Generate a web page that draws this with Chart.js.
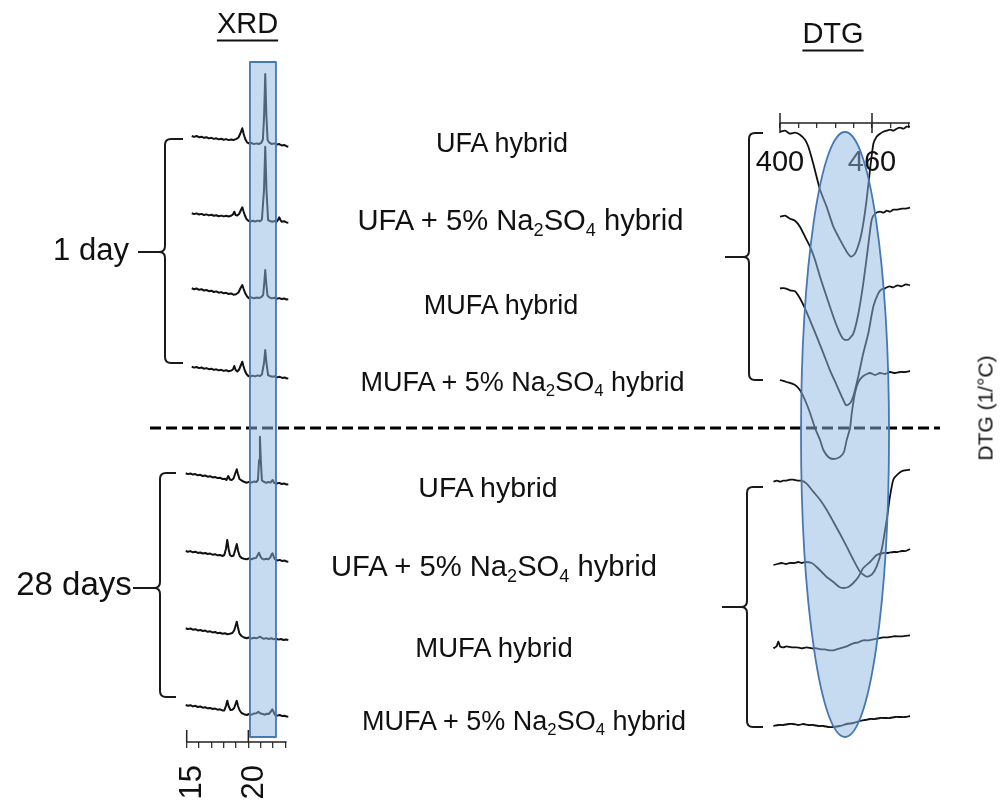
<!DOCTYPE html>
<html><head><meta charset="utf-8">
<script src="https://cdn.jsdelivr.net/npm/chart.js@4/dist/chart.umd.min.js"></script>
<style>
html,body{margin:0;padding:0;background:#fff;}
#wrap{position:relative;width:1002px;height:800px;overflow:hidden;font-family:"Liberation Sans",Arial,sans-serif;color:#111;}
#c{position:absolute;left:0;top:0;}
.lbl{position:absolute;white-space:nowrap;line-height:1;transform:translate(-50%,-50%);}
.lbl sub{font-size:0.62em;vertical-align:-0.3em;line-height:0;}
.ttl{text-decoration:underline;text-decoration-thickness:2px;text-underline-offset:7px;}
</style></head>
<body><div id="wrap"><canvas id="c" width="1002" height="800"></canvas></div>
<script>
// ---------------- DATA ----------------
// XRD: [2θ (°), intensity (a.u., relative to each trace's right-end baseline)]
const xrdUFA_1d = [[15.41,11.0],[15.6,10.1],[15.8,11.0],[16.0,9.8],[16.2,10.3],[16.4,9.2],[16.6,9.8],[16.8,8.6],[17.0,9.2],[17.2,8.1],[17.4,8.7],[17.6,7.6],[17.8,8.2],[18.0,7.3],[18.2,7.9],[18.4,6.9],[18.6,7.5],[18.8,7.0],[19.0,7.9],[19.2,9.5],[19.35,13.5],[19.51,18.7],[19.62,13.0],[19.75,8.0],[19.9,4.6],[20.05,3.6],[20.25,4.1],[20.45,2.9],[20.65,3.6],[20.85,3.0],[21.05,4.2],[21.18,7.5],[21.28,32],[21.37,73],[21.46,32],[21.56,7.0],[21.7,4.3],[21.9,3.0],[22.1,3.6],[22.3,2.4],[22.5,2.9],[22.7,1.6],[22.9,2.0],[23.1,0.8],[23.24,0.3]];
const xrdUFA5_1d = [[15.41,9.7],[15.6,8.9],[15.8,9.6],[16.0,8.5],[16.2,9.1],[16.4,8.0],[16.6,8.6],[16.8,7.6],[17.0,8.2],[17.2,7.2],[17.4,7.8],[17.6,6.8],[17.8,7.4],[18.0,6.6],[18.2,7.2],[18.4,6.5],[18.6,7.3],[18.75,8.5],[18.86,11.3],[18.97,8.0],[19.1,7.5],[19.25,9.0],[19.4,13],[19.51,15.7],[19.6,12],[19.72,7.5],[19.85,4.0],[20.0,2.2],[20.15,1.4],[20.35,2.3],[20.55,1.5],[20.75,2.4],[20.95,1.8],[21.1,3.5],[21.27,33],[21.37,76.3],[21.47,33],[21.6,3.0],[21.75,2.0],[21.95,1.2],[22.15,2.0],[22.3,1.3],[22.42,3.5],[22.51,5.7],[22.6,3.0],[22.7,1.3],[22.9,1.8],[23.1,0.6],[23.24,0.3]];
const xrdMUFA_1d = [[15.41,11.7],[15.6,10.8],[15.8,11.5],[16.0,10.2],[16.2,10.8],[16.4,9.5],[16.6,10.0],[16.8,8.8],[17.0,9.3],[17.2,8.0],[17.4,8.6],[17.6,7.3],[17.8,7.9],[18.0,6.7],[18.2,7.2],[18.4,6.0],[18.6,6.5],[18.8,5.3],[19.0,5.8],[19.2,7.5],[19.35,11.5],[19.51,15.0],[19.62,11],[19.75,6.7],[19.9,3.5],[20.05,1.8],[20.25,2.6],[20.45,1.6],[20.65,2.5],[20.85,2.0],[21.05,2.9],[21.2,5.0],[21.29,17],[21.37,30],[21.45,17],[21.55,4.5],[21.7,2.7],[21.9,1.6],[22.1,2.3],[22.3,1.3],[22.5,1.9],[22.7,1.0],[22.9,1.5],[23.1,0.5],[23.24,0.7]];
const xrdMUFA5_1d = [[15.41,12.3],[15.6,11.4],[15.8,12.0],[16.0,10.9],[16.2,11.5],[16.4,10.3],[16.6,10.9],[16.8,9.8],[17.0,10.3],[17.2,9.1],[17.4,9.7],[17.6,8.6],[17.8,9.2],[18.0,8.1],[18.2,8.8],[18.4,7.8],[18.6,8.4],[18.75,9.5],[18.86,13.0],[18.97,9.0],[19.1,7.5],[19.25,9.5],[19.4,14],[19.51,17.3],[19.6,13],[19.72,8.3],[19.85,5.0],[20.0,3.0],[20.15,2.3],[20.35,3.4],[20.55,2.6],[20.75,3.6],[20.95,3.0],[21.1,4.5],[21.27,16],[21.37,29],[21.47,16],[21.6,4.0],[21.75,3.0],[21.95,2.2],[22.15,2.8],[22.35,1.6],[22.55,2.2],[22.75,1.1],[22.95,1.6],[23.1,0.6],[23.24,0.7]];
const xrdUFA_28d = [[14.92,11.7],[15.1,10.9],[15.3,11.5],[15.5,10.4],[15.7,10.9],[15.9,9.7],[16.1,10.2],[16.3,9.0],[16.5,9.5],[16.7,8.3],[16.9,8.8],[17.1,7.6],[17.3,8.1],[17.5,6.9],[17.7,7.3],[17.9,6.0],[18.1,6.3],[18.22,5.0],[18.37,9.0],[18.5,5.5],[18.65,5.0],[18.8,6.5],[18.95,12],[19.06,15.7],[19.16,11],[19.28,6.0],[19.45,4.5],[19.65,3.2],[19.85,2.3],[20.05,3.1],[20.25,2.5],[20.45,3.4],[20.65,3.0],[20.78,5.0],[20.87,25],[20.94,48.3],[21.01,25],[21.1,4.5],[21.25,3.3],[21.45,2.3],[21.65,3.0],[21.8,2.4],[21.97,5.0],[22.1,2.0],[22.3,1.5],[22.5,2.1],[22.7,1.0],[22.9,1.5],[23.1,0.5],[23.24,0.7]];
const xrdUFA5_28d = [[14.92,11.0],[15.1,10.2],[15.3,10.9],[15.5,9.7],[15.7,10.3],[15.9,9.1],[16.1,9.6],[16.3,8.5],[16.5,9.0],[16.7,8.0],[16.9,8.4],[17.1,7.3],[17.3,7.8],[17.5,6.7],[17.7,7.1],[17.9,6.0],[18.05,7.0],[18.18,13],[18.29,22],[18.4,13],[18.51,7.0],[18.65,5.8],[18.8,6.5],[18.93,12],[19.06,18],[19.17,11],[19.3,6.0],[19.45,4.0],[19.65,3.2],[19.87,2.7],[20.05,3.6],[20.25,2.8],[20.45,3.8],[20.62,4.0],[20.76,7.0],[20.86,9.3],[20.96,6.0],[21.08,3.7],[21.25,2.5],[21.45,3.2],[21.62,2.7],[21.78,4.5],[21.9,8.0],[21.97,8.7],[22.06,5.0],[22.16,2.7],[22.35,1.5],[22.55,2.1],[22.75,0.9],[22.95,1.4],[23.1,0.4],[23.24,0.3]];
const xrdMUFA_28d = [[14.92,12.7],[15.1,11.9],[15.3,12.5],[15.5,11.3],[15.7,11.8],[15.9,10.6],[16.1,11.1],[16.3,10.0],[16.5,10.4],[16.7,9.2],[16.9,9.7],[17.1,8.6],[17.3,9.0],[17.5,7.8],[17.7,8.3],[17.9,7.3],[18.1,7.8],[18.3,6.8],[18.5,7.2],[18.7,8.0],[18.85,10.5],[18.96,15],[19.06,19.3],[19.15,14],[19.27,7.7],[19.45,5.0],[19.65,3.5],[19.87,2.7],[20.05,3.5],[20.25,2.4],[20.45,3.2],[20.65,2.7],[20.82,3.6],[20.94,4.3],[21.06,3.3],[21.25,2.2],[21.45,2.9],[21.65,2.0],[21.85,2.7],[22.05,1.8],[22.25,2.4],[22.45,1.4],[22.65,2.0],[22.85,1.0],[23.05,1.5],[23.24,1.0]];
const xrdMUFA5_28d = [[14.92,12.0],[15.1,11.2],[15.3,11.8],[15.5,10.6],[15.7,11.2],[15.9,10.0],[16.1,10.5],[16.3,9.3],[16.5,9.8],[16.7,8.7],[16.9,9.1],[17.1,8.0],[17.3,8.4],[17.5,7.3],[17.7,7.7],[17.9,6.6],[18.05,6.5],[18.18,11],[18.29,16.3],[18.4,11],[18.55,7.0],[18.7,7.3],[18.85,9.0],[18.96,13],[19.06,16.3],[19.16,11],[19.3,6.5],[19.45,4.0],[19.65,2.8],[19.87,2.0],[20.05,3.0],[20.25,2.3],[20.45,3.4],[20.65,3.8],[20.81,5.3],[20.95,3.8],[21.16,3.0],[21.35,2.3],[21.5,3.3],[21.65,3.0],[21.8,5.0],[21.94,7.7],[22.05,5.0],[22.16,2.0],[22.35,1.4],[22.55,2.0],[22.75,0.9],[22.95,1.3],[23.1,0.4],[23.24,0.3]];

// DTG: [temperature (°C), DTG (a.u., relative to each trace's start)]
const dtgUFA_1d = [[400,0],[403.3,0.01],[406.5,-0.02],[409.8,-0.01],[413,-0.03],[416.3,-0.08],[418.5,-0.15],[421.7,-0.32],[426.1,-0.58],[430.4,-0.75],[434.8,-0.95],[439.1,-1.08],[443.5,-1.2],[446.3,-1.25],[448.9,-1.22],[452.2,-1.08],[454.3,-0.92],[456.5,-0.68],[458.7,-0.38],[460.9,-0.12],[463,-0.05],[465.2,-0.02],[467.4,0],[469.6,0.01],[471.7,0.02],[474,0.01],[476.1,0.03],[478.3,0.04],[480.4,0.03],[482.6,0.05],[484.8,0.05]];
const dtgUFA5_1d = [[400,0],[403.3,0.01],[406.5,-0.02],[409.8,-0.04],[413,-0.10],[416.3,-0.20],[419.6,-0.30],[422.8,-0.43],[426.1,-0.60],[430.4,-0.80],[434.8,-1.00],[438,-1.13],[440.2,-1.20],[442,-1.23],[444.5,-1.23],[447.8,-1.17],[451.1,-0.97],[454.3,-0.67],[457.2,-0.33],[459.8,-0.03],[462,0.03],[465.2,0.05],[467.4,0.04],[469.6,0.06],[471.7,0.05],[473.9,0.07],[476.7,0.07],[479.4,0.08],[482.1,0.08],[484.8,0.09]];
const dtgMUFA_1d = [[400,0],[403.3,0],[406.5,-0.02],[409.8,-0.03],[413,-0.10],[416.3,-0.20],[419.6,-0.32],[423.9,-0.48],[428.3,-0.65],[432.6,-0.82],[437,-0.97],[440.2,-1.08],[443.1,-1.17],[445.7,-1.15],[447.8,-1.08],[451.1,-0.88],[454.3,-0.65],[457.6,-0.45],[460.9,-0.18],[464.1,-0.05],[466.3,-0.01],[468.5,0],[471.2,0.02],[473.9,0.01],[476.7,0.03],[479.4,0.02],[482.1,0.04],[484.8,0.03]];
const dtgMUFA5_1d = [[400,0],[404.3,-0.02],[409.8,-0.05],[413,-0.10],[416.3,-0.20],[419.6,-0.33],[422.8,-0.48],[426.1,-0.60],[428.3,-0.70],[431.5,-0.77],[434.8,-0.79],[439.1,-0.77],[441.7,-0.72],[443.5,-0.60],[445.7,-0.48],[446.8,-0.33],[448.9,-0.13],[451.1,-0.02],[454.3,0.04],[458.7,0.07],[462,0.05],[465.2,0.07],[468.5,0.06],[471.7,0.08],[475,0.07],[478.3,0.08],[481.5,0.08],[484.8,0.09]];
const dtgUFA_28d = [[395.7,0],[398,0.01],[400,0.00],[402.2,0.01],[404.3,0.01],[406.5,0.02],[408.7,0.02],[411.4,0.01],[414.1,0.01],[417.4,-0.02],[421.7,-0.10],[426.1,-0.18],[430.4,-0.28],[434.8,-0.40],[439.1,-0.52],[443.5,-0.65],[447.8,-0.78],[452.2,-0.90],[456.5,-0.95],[459.8,-0.93],[463,-0.85],[466.3,-0.68],[469.6,-0.38],[471.7,-0.15],[473.9,0.02],[477.2,0.08],[480.4,0.11],[484.8,0.12]];
const dtgUFA5_28d = [[395.7,0],[398.4,0.01],[401.1,0.02],[403.8,0.01],[406.5,0.02],[409.2,0.02],[412,0.03],[414.2,0.02],[416.3,0.03],[420.7,0.02],[423.9,-0.02],[427.2,-0.07],[430.4,-0.12],[434.8,-0.17],[438.7,-0.22],[441.3,-0.23],[444.6,-0.22],[447.8,-0.18],[451.1,-0.12],[454.3,-0.03],[458.7,0.03],[463,0.10],[467.4,0.12],[470.6,0.12],[473.9,0.13],[476.7,0.13],[479.4,0.14],[482.1,0.14],[484.8,0.16]];
const dtgMUFA_28d = [[395.7,0],[397.8,0.02],[398.9,0.07],[400,0.02],[402.2,0.01],[404.3,0.02],[407.6,0.01],[410.9,0.01],[414.1,0.00],[417.4,0.01],[420.7,0.00],[423.9,0],[426.6,-0.01],[429.3,-0.01],[432,-0.02],[434.8,-0.02],[439.1,0],[443.5,0.02],[447.8,0.05],[451.1,0.06],[454.3,0.08],[457.6,0.08],[460.9,0.09],[464.1,0.10],[467.4,0.11],[470.6,0.11],[473.9,0.12],[479.4,0.12],[484.8,0.13]];
const dtgMUFA5_28d = [[395.7,0],[399,0.01],[402.2,0.01],[405.5,0.02],[408.7,0.02],[412,0.01],[415.2,0.02],[418.5,0.01],[421.7,0.01],[425,0.00],[428.3,0],[431.5,-0.01],[434.8,-0.01],[439.1,0],[443.5,0.02],[447.8,0.03],[452.2,0.05],[455.4,0.06],[458.7,0.07],[462,0.07],[465.2,0.08],[468.5,0.08],[471.7,0.08],[475,0.09],[478.3,0.09],[481.5,0.09],[484.8,0.10]];

const xrdSeries = [xrdUFA_1d, xrdUFA5_1d, xrdMUFA_1d, xrdMUFA5_1d, xrdUFA_28d, xrdUFA5_28d, xrdMUFA_28d, xrdMUFA5_28d];
const dtgSeries = [dtgUFA_1d, dtgUFA5_1d, dtgMUFA_1d, dtgMUFA5_1d, dtgUFA_28d, dtgUFA5_28d, dtgMUFA_28d, dtgMUFA5_28d];

const sampleNames = ['UFA hybrid', 'UFA + 5% Na<sub>2</sub>SO<sub>4</sub> hybrid', 'MUFA hybrid', 'MUFA + 5% Na<sub>2</sub>SO<sub>4</sub> hybrid'];
const ageNames = ['1 day', '28 days'];
const xrdTicks = [15, 16, 17, 18, 19, 20, 21, 22, 23];
const xrdTickLabels = [15, 20];
const dtgTicks = [400, 412, 424, 436, 448, 460, 472, 484];
const dtgTickLabels = [400, 460];
const xrdHighlight = [20.13, 22.24];   // 2θ range of the shaded band
const dtgHighlight = [413.7, 471.1];   // temperature range of the shaded ellipse

// ---------------- LAYOUT / STYLE ----------------
const W = 1002, H = 800;
const L = {
  xrd: { anchor: 15, anchorPx: 186.7, pxPerUnit: 12.33, axisY: 742, axisEnd: 23.1 },
  dtg: { anchor: 400, anchorPx: 780, pxPerUnit: 1.5333, axisY: 123, axisEnd: 484.8 },
  xrdBase: [147, 223, 300, 379, 485, 562, 641, 717], xrdPx: 1,
  dtgBase: [131.7, 216.7, 288.3, 380, 481.7, 565, 648.3, 726], dtgPx: 100,
  rectY: [62, 737], ellY: [132, 737],
  divider: { y: 428, x0: 150, x1: 940 },
  brackets: [
    { x: 165, top: 139, bot: 363, arm: 183, mid: 252, tip: 138 },
    { x: 160, top: 473, bot: 697, arm: 176, mid: 588, tip: 133 },
    { x: 749, top: 133, bot: 380, arm: 763, mid: 257, tip: 725 },
    { x: 747, top: 487, bot: 727, arm: 763, mid: 607, tip: 722 }
  ],
  names: [[502,143,27],[520.5,221,29.2],[501,305,27],[522.5,382,27],[488,487,28.5],[494,567,29.2],[494,648,27.5],[524,721,27]],
  ages: [[91,249,31],[74,583,33]]
};
const FONT = '"Liberation Sans", Arial, sans-serif';
const INK = '#111';

// ---------------- HTML TEXT ----------------
const wrap = document.getElementById('wrap');
function addLabel(html, x, y, size, extra) {
  const d = document.createElement('div');
  d.className = 'lbl' + (extra ? ' ' + extra : '');
  d.innerHTML = html;
  d.style.left = x + 'px'; d.style.top = y + 'px'; d.style.fontSize = size + 'px';
  wrap.appendChild(d);
  return d;
}
L.names.forEach((p, i) => addLabel(sampleNames[i % 4], p[0], p[1], p[2]));
L.ages.forEach((p, i) => addLabel(ageNames[i], p[0], p[1], p[2]));
addLabel('XRD', 247.5, 23, 29, 'ttl');
addLabel('DTG', 833, 33, 29, 'ttl');
const yl = addLabel('DTG (1/°C)', 985, 408, 21);
yl.style.transform = 'translate(-50%,-50%) rotate(-90deg)';

// ---------------- CHART ----------------
function lin(cfg) { const min = cfg.anchor - cfg.anchorPx / cfg.pxPerUnit; return { min, max: min + W / cfg.pxPerUnit }; }
const xr = lin(L.xrd), dr = lin(L.dtg);

const scales = {
  frame: { axis: 'y', type: 'linear', min: 0, max: H, reverse: true, display: false },
  xXrd: {
    axis: 'x', type: 'linear', min: xr.min, max: xr.max, position: { frame: L.xrd.axisY },
    afterBuildTicks: s => { s.ticks = xrdTicks.map(v => ({ value: v })); },
    ticks: { autoSkip: false, minRotation: 90, maxRotation: 90, padding: 17, labelOffset: 6, color: INK,
      font: { family: FONT, size: 31 }, callback: v => xrdTickLabels.includes(v) ? String(v) : '' },
    grid: { drawOnChartArea: false, tickLength: 6, color: '#333', lineWidth: 1.3 },
    border: { display: false }
  },
  xDtg: {
    axis: 'x', type: 'linear', min: dr.min, max: dr.max, position: { frame: L.dtg.axisY },
    afterBuildTicks: s => { s.ticks = dtgTicks.map(v => ({ value: v })); },
    ticks: { autoSkip: false, minRotation: 0, maxRotation: 0, padding: 18, color: INK,
      font: { family: FONT, size: 29 }, callback: v => dtgTickLabels.includes(v) ? String(v) : '' },
    grid: { drawOnChartArea: false, tickLength: 5, color: '#333', lineWidth: 1.3 },
    border: { display: false }
  }
};
const datasets = [];
xrdSeries.forEach((d, i) => {
  const b = L.xrdBase[i];
  scales['yX' + i] = { axis: 'y', type: 'linear', display: false, min: (b - H) / L.xrdPx, max: b / L.xrdPx };
  datasets.push({ data: d, xAxisID: 'xXrd', yAxisID: 'yX' + i, borderColor: INK, borderWidth: 2, pointRadius: 0, tension: 0, borderJoinStyle: 'round' });
});
dtgSeries.forEach((d, i) => {
  const b = L.dtgBase[i];
  scales['yD' + i] = { axis: 'y', type: 'linear', display: false, min: (b - H) / L.dtgPx, max: b / L.dtgPx };
  datasets.push({ data: d, xAxisID: 'xDtg', yAxisID: 'yD' + i, borderColor: INK, borderWidth: 1.8, pointRadius: 0, tension: 0.2, borderJoinStyle: 'round' });
});

const decor = {
  id: 'decor',
  afterDatasetsDraw(chart) {
    const ctx = chart.ctx, sx = chart.scales.xXrd, st = chart.scales.xDtg, fy = chart.scales.frame;
    ctx.save();
    ctx.strokeStyle = '#222'; ctx.lineCap = 'butt';
    ctx.lineWidth = 1.5;
    const ax = fy.getPixelForValue(L.xrd.axisY), at = fy.getPixelForValue(L.dtg.axisY);
    ctx.beginPath();
    ctx.moveTo(sx.getPixelForValue(xrdTicks[0]), ax); ctx.lineTo(sx.getPixelForValue(L.xrd.axisEnd), ax);
    xrdTickLabels.forEach(v => { const p = sx.getPixelForValue(v); ctx.moveTo(p, ax - 12); ctx.lineTo(p, ax); });
    ctx.moveTo(st.getPixelForValue(dtgTicks[0]), at); ctx.lineTo(st.getPixelForValue(L.dtg.axisEnd), at);
    dtgTickLabels.forEach(v => { const p = st.getPixelForValue(v); ctx.moveTo(p, at - 10); ctx.lineTo(p, at + 10); });
    ctx.stroke();
    // brackets
    ctx.lineWidth = 2; ctx.strokeStyle = '#1a1a1a'; ctx.lineJoin = 'round';
    const r = 6;
    L.brackets.forEach(bk => {
      const top = fy.getPixelForValue(bk.top), bot = fy.getPixelForValue(bk.bot), mid = fy.getPixelForValue(bk.mid);
      ctx.beginPath();
      ctx.moveTo(bk.arm, top); ctx.lineTo(bk.x + r, top); ctx.quadraticCurveTo(bk.x, top, bk.x, top + r);
      ctx.lineTo(bk.x, mid - r); ctx.quadraticCurveTo(bk.x, mid, bk.x - r, mid);
      ctx.quadraticCurveTo(bk.x, mid, bk.x, mid + r);
      ctx.lineTo(bk.x, bot - r); ctx.quadraticCurveTo(bk.x, bot, bk.x + r, bot); ctx.lineTo(bk.arm, bot);
      ctx.moveTo(bk.x - r, mid); ctx.lineTo(bk.tip, mid);
      ctx.stroke();
    });
    // dashed divider
    ctx.lineWidth = 3; ctx.strokeStyle = '#000'; ctx.setLineDash([11, 5]);
    const dy = fy.getPixelForValue(L.divider.y);
    ctx.beginPath(); ctx.moveTo(L.divider.x0, dy); ctx.lineTo(L.divider.x1, dy); ctx.stroke();
    ctx.setLineDash([]);
    // highlights
    ctx.fillStyle = 'rgba(141,183,223,0.5)'; ctx.strokeStyle = 'rgb(70,120,180)'; ctx.lineWidth = 1.8;
    const rx0 = sx.getPixelForValue(xrdHighlight[0]), rx1 = sx.getPixelForValue(xrdHighlight[1]);
    const ry0 = fy.getPixelForValue(L.rectY[0]), ry1 = fy.getPixelForValue(L.rectY[1]);
    ctx.beginPath(); ctx.rect(rx0, ry0, rx1 - rx0, ry1 - ry0); ctx.fill(); ctx.stroke();
    const ex0 = st.getPixelForValue(dtgHighlight[0]), ex1 = st.getPixelForValue(dtgHighlight[1]);
    const ey0 = fy.getPixelForValue(L.ellY[0]), ey1 = fy.getPixelForValue(L.ellY[1]);
    ctx.beginPath(); ctx.ellipse((ex0 + ex1) / 2, (ey0 + ey1) / 2, (ex1 - ex0) / 2, (ey1 - ey0) / 2, 0, 0, Math.PI * 2);
    ctx.fill(); ctx.stroke();
    ctx.restore();
  }
};

new Chart(document.getElementById('c'), {
  type: 'line',
  data: { datasets },
  options: {
    responsive: false, animation: false, devicePixelRatio: 1, events: [],
    layout: { padding: 0 },
    plugins: { legend: { display: false }, tooltip: { enabled: false } },
    scales
  },
  plugins: [decor]
});
</script>
</body></html>
